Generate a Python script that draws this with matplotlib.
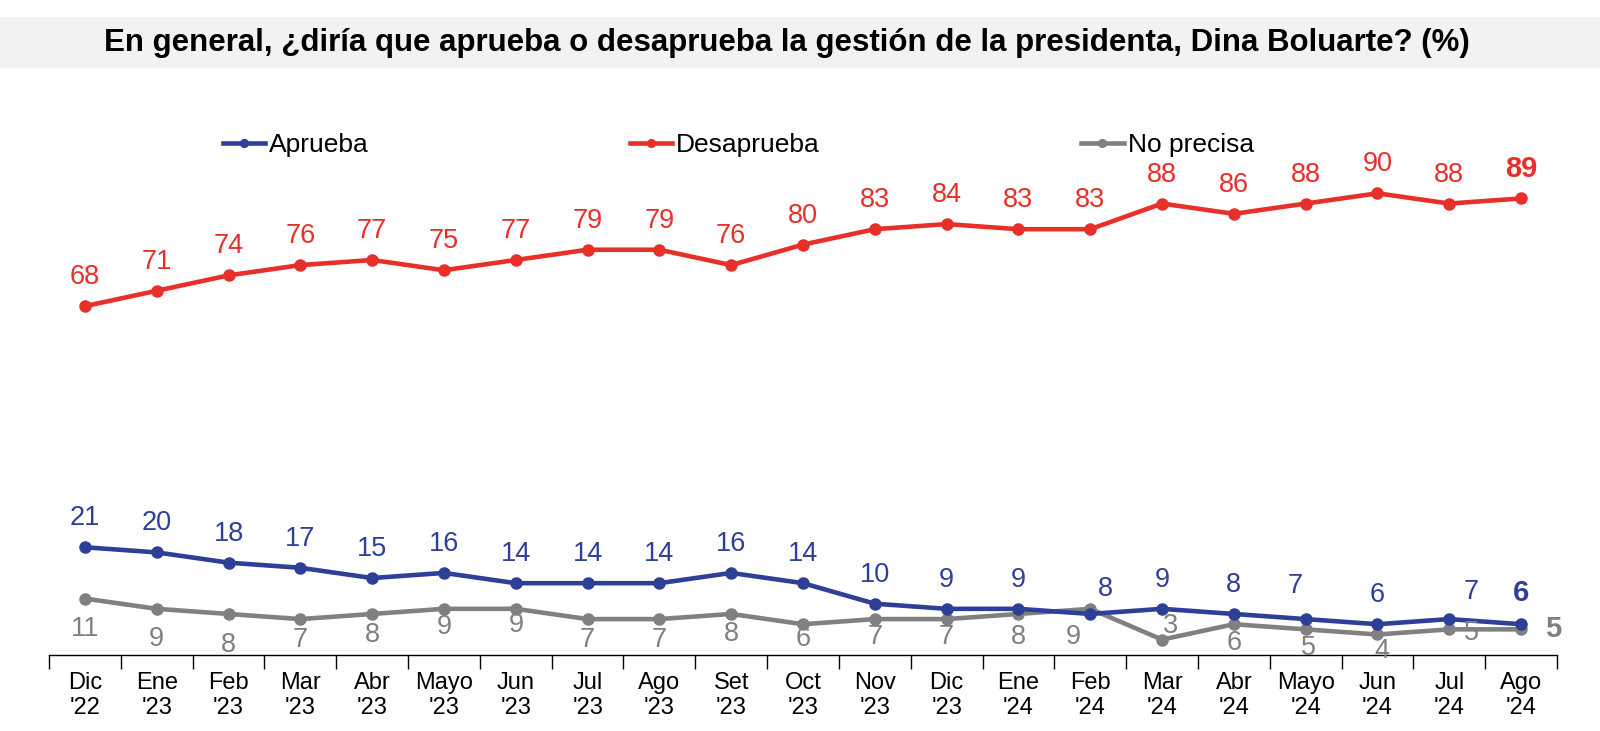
#Gràfica d'aprovació de la presidenta (línies amb etiquetes)

import matplotlib
matplotlib.use('Agg')
import matplotlib.pyplot as plt
from matplotlib.patches import Rectangle

plt.rcParams['font.family'] = ['Liberation Sans', 'DejaVu Sans']

Meses = ['Dic', 'Ene', 'Feb', 'Mar', 'Abr', 'Mayo', 'Jun', 'Jul', 'Ago', 'Set', 'Oct',
         'Nov', 'Dic', 'Ene', 'Feb', 'Mar', 'Abr', 'Mayo', 'Jun', 'Jul', 'Ago']
Anios = ["'22", "'23", "'23", "'23", "'23", "'23", "'23", "'23", "'23", "'23", "'23",
         "'23", "'23", "'24", "'24", "'24", "'24", "'24", "'24", "'24", "'24"]
Aprueba = [21, 20, 18, 17, 15, 16, 14, 14, 14, 16, 14, 10, 9, 9, 8, 9, 8, 7, 6, 7, 6]
Desaprueba = [68, 71, 74, 76, 77, 75, 77, 79, 79, 76, 80, 83, 84, 83, 83, 88, 86, 88, 90, 88, 89]
No_precisa = [11, 9, 8, 7, 8, 9, 9, 7, 7, 8, 6, 7, 7, 8, 9, 3, 6, 5, 4, 5, 5]

azul = '#2E3F98'
rojo = '#E8302A'
gris = '#808080'

# desplaçaments de les etiquetes (pixels)
off_azul = [(0, 29)] * 21
off_azul[14] = (15, 25)
off_azul[17] = (-10, 33)
off_azul[19] = (22, 27)
off_azul[20] = (0, 31)
off_gris = [(0, -30), (0, -30), (0, -31), (0, -21), (0, -21), (0, -18), (0, -16),
            (0, -21), (0, -21), (0, -20), (0, -15), (0, -18), (0, -18), (0, -23),
            (-17, -28), (8, 14), (0, -19), (3, -19), (4, -17), (22, -4), (32, 0)]

fig = plt.figure(figsize=(16, 7.31), dpi=100)
fig.patches.append(Rectangle((0, 1 - 68 / 731), 1, 51 / 731, transform=fig.transFigure,
                             facecolor='#F2F2F2', edgecolor='none', zorder=0))
fig.text(0.492, 1 - 43 / 731,
         'En general, ¿diría que aprueba o desaprueba la gestión de la presidenta, Dina Boluarte? (%)',
         ha='center', va='center', fontsize=22.5, fontweight='bold')

ax = fig.add_axes([49 / 1600, 1 - 655 / 731, (1557 - 49) / 1600, (655 - 142) / 731])
x = list(range(len(Meses)))
ax.plot(x, Aprueba, color=azul, lw=3.3, marker='o', ms=8, label='Aprueba', zorder=3)
ax.plot(x, Desaprueba, color=rojo, lw=3.3, marker='o', ms=8, label='Desaprueba', zorder=3)
ax.plot(x, No_precisa, color=gris, lw=3.3, marker='o', ms=8, label='No precisa', zorder=2)

ultimo = len(x) - 1
for i in x:
    peso = 'bold' if i == ultimo else 'normal'
    tam = 21 if i == ultimo else 19.5
    ax.annotate(str(Desaprueba[i]), (i, Desaprueba[i]), xytext=(0, 29), textcoords='offset pixels',
                ha='center', va='center', color=rojo, fontsize=tam, fontweight=peso)
    ax.annotate(str(Aprueba[i]), (i, Aprueba[i]), xytext=off_azul[i], textcoords='offset pixels',
                ha='center', va='center', color=azul, fontsize=tam, fontweight=peso)
    ax.annotate(str(No_precisa[i]), (i, No_precisa[i]), xytext=off_gris[i], textcoords='offset pixels',
                ha='center', va='center', color=gris, fontsize=tam, fontweight=peso)

ax.set_xlim(-0.5, len(x) - 0.5)
ax.set_ylim(0, 100)
ax.set_xticks(x)
ax.set_xticklabels([m + '\n' + a for m, a in zip(Meses, Anios)], fontsize=17)
ax.set_xticks([i - 0.5 for i in range(len(x) + 1)], minor=True)
ax.tick_params(axis='x', which='major', length=0, pad=12)
ax.tick_params(axis='x', which='minor', length=10, width=1, direction='out')
ax.set_yticks([])
for lado in ['top', 'right', 'left']:
    ax.spines[lado].set_visible(False)
ax.spines['bottom'].set_linewidth(1)

fig.legend(loc='center left', bbox_to_anchor=(223 / 1600, 1 - 145 / 731), ncol=3, frameon=False,
           fontsize=19, handlelength=1.6, handletextpad=0.15, columnspacing=9.9,
           borderpad=0, borderaxespad=0, markerscale=0.7)

plt.savefig('out.png', dpi=100)
